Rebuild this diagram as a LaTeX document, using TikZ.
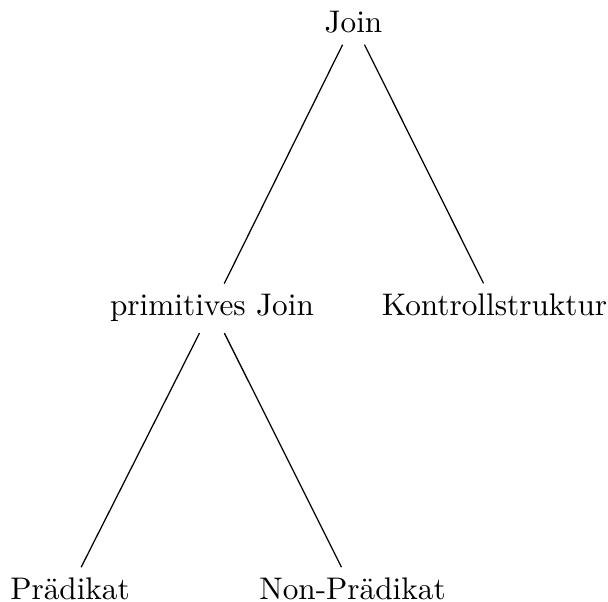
\documentclass[tikz,border=0pt]{standalone}
\begin{document}
\begin{tikzpicture}[x=0.32pt,y=-0.32pt,
  lbl/.style={anchor=base,inner sep=3.333pt}]
\useasboundingbox (0,0) rectangle (608,602);
\node[lbl] (join) at (353.5,33) {Join};
\node[lbl] (prim) at (212,316) {primitives Join};
\node[lbl] (kont) at (494.5,316) {Kontrollstruktur};
\node[lbl] (praed) at (70,600) {Prädikat};
\node[lbl] (nonp) at (352.5,600) {Non-Prädikat};
\draw (join) -- (prim);
\draw (join) -- (kont);
\draw (prim) -- (praed);
\draw (prim) -- (nonp);
\end{tikzpicture}
\end{document}
